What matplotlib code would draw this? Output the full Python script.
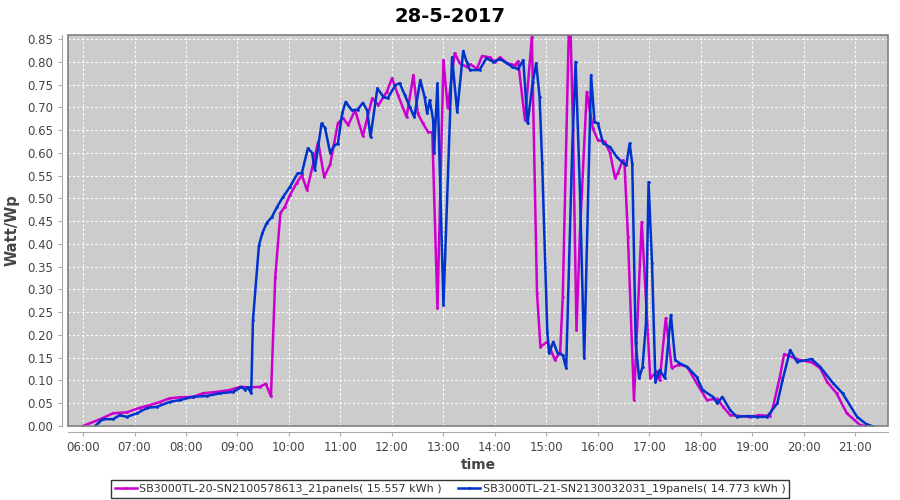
import numpy as np
import pandas as pd
import matplotlib
matplotlib.use("Agg")
import matplotlib.pyplot as plt
import matplotlib.dates as mdates
from matplotlib.patches import Rectangle

day = "2017-05-28"
title = "28-5-2017"

name_20 = "SB3000TL-20-SN2100578613_21panels( 15.557 kWh )"
name_21 = "SB3000TL-21-SN2130032031_19panels( 14.773 kWh )"

time_20 = ["06:00", "06:20", "06:35", "06:51", "07:06", "07:18", "07:30", "07:41", "07:53",
           "08:08", "08:20", "08:36", "08:51", "09:03", "09:14", "09:26", "09:33", "09:39",
           "09:44", "09:50", "09:55", "10:01", "10:09", "10:15", "10:21", "10:34", "10:41",
           "10:48", "10:57", "11:03", "11:09", "11:17", "11:26", "11:37", "11:44", "11:54",
           "12:00", "12:07", "12:17", "12:25", "12:30", "12:36", "12:42", "12:47", "12:53",
           "13:00", "13:05", "13:13", "13:19", "13:27", "13:31", "13:39", "13:45", "13:54",
           "14:00", "14:06", "14:14", "14:23", "14:27", "14:35", "14:43", "14:49", "14:53",
           "15:01", "15:10", "15:16", "15:19", "15:27", "15:31", "15:35", "15:39", "15:47",
           "15:54", "16:00", "16:08", "16:14", "16:20", "16:23", "16:29", "16:31", "16:35",
           "16:42", "16:51", "17:01", "17:09", "17:12", "17:19", "17:26", "17:35", "17:44",
           "17:55", "18:07", "18:19", "18:26", "18:34", "18:45", "18:57", "19:08", "19:20",
           "19:24", "19:32", "19:37", "19:55", "20:09", "20:19", "20:27", "20:38", "20:50",
           "21:05", "21:11"]
watt_20 = [0.000, 0.015, 0.028, 0.030, 0.040, 0.046, 0.053, 0.061, 0.063,
           0.064, 0.072, 0.075, 0.079, 0.086, 0.085, 0.086, 0.093, 0.065,
           0.327, 0.468, 0.481, 0.507, 0.534, 0.551, 0.518, 0.624, 0.547,
           0.575, 0.665, 0.677, 0.661, 0.694, 0.637, 0.720, 0.705, 0.734,
           0.764, 0.727, 0.679, 0.771, 0.687, 0.665, 0.646, 0.645, 0.259,
           0.804, 0.698, 0.819, 0.797, 0.789, 0.795, 0.785, 0.813, 0.810,
           0.800, 0.810, 0.797, 0.793, 0.801, 0.672, 0.855, 0.292, 0.174,
           0.185, 0.145, 0.163, 0.283, 0.950, 0.650, 0.210, 0.424, 0.734,
           0.654, 0.628, 0.625, 0.600, 0.545, 0.555, 0.584, 0.575, 0.415,
           0.057, 0.448, 0.105, 0.120, 0.100, 0.237, 0.128, 0.135, 0.130,
           0.094, 0.057, 0.060, 0.042, 0.024, 0.022, 0.020, 0.024, 0.022,
           0.042, 0.108, 0.158, 0.145, 0.140, 0.127, 0.097, 0.072, 0.028,
           0.003, 0.000]

time_21 = ["06:14", "06:23", "06:35", "06:43", "06:51", "07:03", "07:15", "07:26", "07:41",
           "07:53", "08:08", "08:24", "08:40", "08:55", "09:05", "09:09", "09:12", "09:16",
           "09:18", "09:25", "09:29", "09:34", "09:40", "09:46", "09:53", "10:01", "10:10",
           "10:15", "10:22", "10:27", "10:30", "10:38", "10:42", "10:48", "10:53", "10:57",
           "11:02", "11:06", "11:13", "11:20", "11:26", "11:31", "11:35", "11:43", "11:50",
           "11:55", "12:04", "12:09", "12:15", "12:21", "12:26", "12:33", "12:38", "12:41",
           "12:44", "12:48", "12:49", "12:53", "13:00", "13:10", "13:16", "13:23", "13:27",
           "13:31", "13:42", "13:50", "13:58", "14:06", "14:14", "14:20", "14:27", "14:33",
           "14:38", "14:44", "14:48", "14:52", "14:55", "15:01", "15:03", "15:08", "15:13",
           "15:19", "15:23", "15:30", "15:34", "15:39", "15:44", "15:52", "15:56", "16:00",
           "16:06", "16:14", "16:22", "16:28", "16:33", "16:37", "16:40", "16:44", "16:48",
           "16:52", "16:56", "16:59", "17:03", "17:07", "17:12", "17:18", "17:25", "17:30",
           "17:35", "17:44", "17:55", "18:02", "18:14", "18:19", "18:25", "18:34", "18:42",
           "18:55", "19:05", "19:17", "19:29", "19:35", "19:44", "19:52", "20:09", "20:19",
           "20:34", "20:45", "21:02", "21:12", "21:19"]
watt_21 = [0.000, 0.015, 0.015, 0.024, 0.020, 0.028, 0.040, 0.042, 0.053,
           0.057, 0.064, 0.066, 0.072, 0.075, 0.086, 0.079, 0.085, 0.072,
           0.232, 0.397, 0.424, 0.446, 0.459, 0.481, 0.503, 0.525, 0.555,
           0.556, 0.610, 0.600, 0.562, 0.665, 0.655, 0.600, 0.617, 0.620,
           0.687, 0.712, 0.694, 0.695, 0.710, 0.694, 0.635, 0.742, 0.723,
           0.720, 0.749, 0.753, 0.727, 0.700, 0.679, 0.760, 0.723, 0.687,
           0.716, 0.672, 0.600, 0.753, 0.266, 0.810, 0.690, 0.824, 0.800,
           0.782, 0.782, 0.808, 0.800, 0.806, 0.797, 0.789, 0.784, 0.804,
           0.665, 0.755, 0.797, 0.723, 0.578, 0.207, 0.160, 0.185, 0.160,
           0.156, 0.127, 0.606, 0.800, 0.518, 0.149, 0.771, 0.668, 0.665,
           0.621, 0.613, 0.591, 0.580, 0.573, 0.621, 0.575, 0.182, 0.105,
           0.130, 0.226, 0.536, 0.358, 0.097, 0.123, 0.105, 0.244, 0.145,
           0.138, 0.130, 0.108, 0.079, 0.064, 0.050, 0.064, 0.035, 0.020,
           0.022, 0.020, 0.020, 0.050, 0.100, 0.167, 0.141, 0.147, 0.130,
           0.094, 0.072, 0.020, 0.005, 0.000]

hour_ticks = ["%02d:00" % h for h in range(6, 22)]


def to_dt(times):
    return pd.to_datetime([day + " " + t for t in times])


fig = plt.figure(figsize=(9, 5), dpi=100)
ax = fig.add_axes([68 / 900, 1 - 426 / 500, 820 / 900, 391 / 500])
ax.set_facecolor("#cccccc")

ax.plot(to_dt(time_20), watt_20, color="#cc00cc", lw=1.8, marker=".", ms=2,
        label=name_20)
ax.plot(to_dt(time_21), watt_21, color="#0033cc", lw=1.8, marker=".", ms=2,
        label=name_21)

ax.set_xlim(pd.Timestamp(day + " 05:42:30"), pd.Timestamp(day + " 21:38"))
ax.set_ylim(0, 0.859)
ax.set_xticks(to_dt(hour_ticks))
ax.xaxis.set_major_formatter(mdates.DateFormatter("%H:%M"))
ax.set_yticks(np.arange(0, 0.851, 0.05))
ax.yaxis.set_major_formatter(matplotlib.ticker.FormatStrFormatter("%.2f"))

ax.grid(True, color="white", ls=(0, (2, 2)), lw=0.8)
ax.set_axisbelow(True)

for s in ["top", "right"]:
    ax.spines[s].set_visible(False)
for s in ["left", "bottom"]:
    ax.spines[s].set_position(("outward", 4))
    ax.spines[s].set_color("#aaaaaa")
ax.add_patch(Rectangle((0, 0), 1, 1, transform=ax.transAxes, fill=False,
                       ec="#808080", lw=1.2, clip_on=False, zorder=5))
ax.tick_params(colors="#aaaaaa", labelcolor="#444444", labelsize=8.5, length=3)

ax.set_xlabel("time", fontsize=10, fontweight="bold", color="#444444", labelpad=3)
ax.set_ylabel("Watt/Wp", fontsize=10.5, fontweight="bold", color="#444444", labelpad=6)
fig.suptitle(title, x=0.5, y=0.985, fontsize=14, fontweight="bold")

leg = fig.legend(loc="lower center", bbox_to_anchor=(0.5, 0.0), ncol=2,
                 fontsize=8, frameon=True, fancybox=False, handlelength=2.0,
                 handletextpad=0.2, columnspacing=1.5, borderpad=0.3,
                 borderaxespad=0.2)
leg.get_frame().set_edgecolor("black")
leg.get_frame().set_linewidth(1.0)
for t in leg.get_texts():
    t.set_color("#333333")

fig.savefig("out.png", dpi=100)
